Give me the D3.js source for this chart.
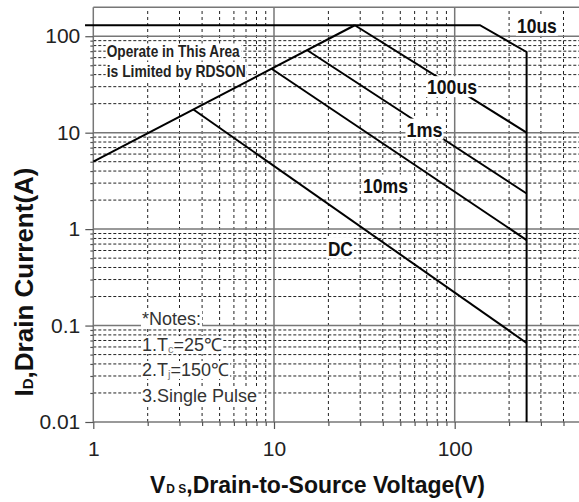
<!DOCTYPE html>
<html>
<head>
<meta charset="utf-8">
<script src="https://cdn.jsdelivr.net/npm/d3@7"></script>
<style>
  html, body { margin: 0; padding: 0; background: #fff; }
  svg { display: block; }
</style>
</head>
<body>
<svg id="chart" width="579" height="502"></svg>
<script>
// ---------- data ----------
const xDomain = [1, 500];
const yDomain = [0.01, 200];
const xMajorTicks = [1, 10, 100];
const xMinorTicks = [2, 3, 4, 5, 6, 7, 8, 9, 20, 30, 40, 50, 60, 70, 80, 90, 200, 300, 400];
const yMajorTicks = [0.01, 0.1, 1, 10, 100];
const yMinorTicks = [0.02, 0.03, 0.04, 0.05, 0.06, 0.07, 0.08, 0.09,
                     0.2, 0.3, 0.4, 0.5, 0.6, 0.7, 0.8, 0.9,
                     2, 3, 4, 5, 6, 7, 8, 9,
                     20, 30, 40, 50, 60, 70, 80, 90];
const xTickLabels = ["1", "10", "100"];
const yTickLabels = ["0.01", "0.1", "1", "10", "100"];

// SOA boundary curves: [V, I]
const rdsonLine = [[1, 5.0], [28, 130]];
const limit10us = [[0.9, 130], [138, 130], [250, 68.7], [250, 0.01]];
const line100us = [[28, 130], [250, 10]];
const line1ms   = [[15.2, 72], [250, 2.34]];
const line10ms  = [[9.7, 46], [250, 0.77]];
const lineDC    = [[3.58, 17.4], [250, 0.066]];

// curve labels: text, V, I (center)
const curveLabels = [
  { text: "10us",  v: 285,  i: 130 },
  { text: "100us", v: 96.6, i: 30 },
  { text: "1ms",   v: 68,   i: 10.9 },
  { text: "10ms",  v: 41.4, i: 2.86 },
  { text: "DC",    v: 23.3, i: 0.635 }
];
const labelWidths = { "10us": 40, "100us": 50, "1ms": 36, "10ms": 45, "DC": 25 };

const areaNote = [
  { text: "Operate in This Area", v: 1.186, i: 68.7, w: 133 },
  { text: "is Limited by RDSON",  v: 1.186, i: 42.7, w: 139 }
];

// ---------- layout ----------
const svg = d3.select("#chart");
const x = d3.scaleLog().domain(xDomain).range([93.3, 581]);
const y = d3.scaleLog().domain(yDomain).range([422, 7.2]);
const FONT = "'Liberation Sans', Arial, Helvetica, sans-serif";

svg.append("rect").attr("width", 579).attr("height", 502).attr("fill", "#fff");

const grid = svg.append("g");
// minor gridlines (dashed)
grid.selectAll(".vminor").data(xMinorTicks).join("line")
  .attr("x1", d => x(d)).attr("x2", d => x(d))
  .attr("y1", y(yDomain[0])).attr("y2", y(yDomain[1]))
  .attr("stroke", "#222").attr("stroke-width", 1).attr("stroke-dasharray", "3,3");
grid.selectAll(".hminor").data(yMinorTicks).join("line")
  .attr("x1", x(xDomain[0])).attr("x2", x(xDomain[1]))
  .attr("y1", d => y(d)).attr("y2", d => y(d))
  .attr("stroke", "#222").attr("stroke-width", 1).attr("stroke-dasharray", "3,2");
// major gridlines (solid grey)
grid.selectAll(".vmajor").data(xMajorTicks).join("line")
  .attr("x1", d => x(d)).attr("x2", d => x(d))
  .attr("y1", y(yDomain[0])).attr("y2", y(yDomain[1]))
  .attr("stroke", "#777").attr("stroke-width", 1.5);
grid.selectAll(".hmajor").data(yMajorTicks.concat([yDomain[1]])).join("line")
  .attr("x1", x(xDomain[0])).attr("x2", x(xDomain[1]))
  .attr("y1", d => y(d)).attr("y2", d => y(d))
  .attr("stroke", "#777").attr("stroke-width", 1.5);

// axes ticks
function styleAxis(g) {
  g.select(".domain").remove();
  g.selectAll(".tick line").attr("stroke", "#555").attr("stroke-width", 1.2);
  g.selectAll("text").attr("font-family", FONT).attr("font-size", 21).attr("fill", "#222");
}
svg.append("g").attr("transform", `translate(${x(xDomain[0])},0)`)
  .call(d3.axisLeft(y).tickValues(yMinorTicks).tickSize(3).tickFormat(""))
  .call(styleAxis);
svg.append("g").attr("transform", `translate(${x(xDomain[0])},0)`)
  .call(d3.axisLeft(y).tickValues(yMajorTicks).tickSize(8).tickPadding(5)
        .tickFormat((d, i) => yTickLabels[i]))
  .call(styleAxis);
svg.append("g").attr("transform", `translate(0,${y(yDomain[0])})`)
  .call(d3.axisBottom(x).tickValues(xMinorTicks).tickSize(4).tickFormat(""))
  .call(styleAxis);
svg.append("g").attr("transform", `translate(0,${y(yDomain[0])})`)
  .call(d3.axisBottom(x).tickValues(xMajorTicks).tickSize(7).tickPadding(12)
        .tickFormat((d, i) => xTickLabels[i]))
  .call(styleAxis);

// curves
const line = d3.line().x(d => x(d[0])).y(d => y(d[1]));
const curves = [rdsonLine, limit10us, line100us, line1ms, line10ms, lineDC];
svg.append("g").selectAll("path").data(curves).join("path")
  .attr("d", line).attr("fill", "none").attr("stroke", "#000")
  .attr("stroke-width", 2).attr("stroke-linejoin", "miter");

// helper: white background behind text
function backed(textSel, pad) {
  textSel.each(function () {
    const b = this.getBBox();
    d3.select(this.parentNode).insert("rect", () => this)
      .attr("x", b.x - pad).attr("y", b.y + 1)
      .attr("width", b.width + 2 * pad).attr("height", b.height - 2)
      .attr("fill", "#fff");
  });
}

// curve labels
const lab = svg.append("g");
curveLabels.forEach(d => {
  const g = lab.append("g");
  const t = g.append("text")
    .attr("x", x(d.v)).attr("y", y(d.i))
    .attr("text-anchor", "middle").attr("dominant-baseline", "central")
    .attr("font-family", FONT).attr("font-weight", "bold").attr("font-size", 21)
    .attr("fill", "#111")
    .attr("textLength", labelWidths[d.text]).attr("lengthAdjust", "spacingAndGlyphs")
    .text(d.text);
  backed(t, 1);
});

// RDSON note
areaNote.forEach(d => {
  const g = lab.append("g");
  const t = g.append("text")
    .attr("x", x(d.v)).attr("y", y(d.i))
    .attr("dominant-baseline", "central")
    .attr("font-family", FONT).attr("font-weight", "bold").attr("font-size", 17)
    .attr("fill", "#222")
    .attr("textLength", d.w).attr("lengthAdjust", "spacingAndGlyphs")
    .text(d.text);
  backed(t, 1);
});

// Notes
const notesV = 1.86;
const notes = [
  { i: 0.117, parts: [["*Notes:", null]] },
  { i: 0.0628, parts: [["1.T", null], ["c", "sub"], ["=25℃", null]] },
  { i: 0.0346, parts: [["2.T", null], ["j", "sub"], ["=150℃", null]] },
  { i: 0.0186, parts: [["3.Single Pulse", null]] }
];
notes.forEach(n => {
  const g = lab.append("g");
  const t = g.append("text")
    .attr("x", x(notesV)).attr("y", y(n.i))
    .attr("dominant-baseline", "central")
    .attr("font-family", FONT).attr("font-size", 18).attr("fill", "#333");
  n.parts.forEach(p => {
    const ts = t.append("tspan").text(p[0]);
    if (p[1] === "sub") ts.attr("font-size", 11).attr("dy", 4).attr("fill", "#777");
    else if (t.selectAll("tspan").size() > 1) ts.attr("dy", -4);
  });
  backed(t, 1);
});

// axis titles
const xt = svg.append("text").attr("x", 150).attr("y", 493)
  .attr("font-family", FONT).attr("font-weight", "bold").attr("font-size", 23).attr("fill", "#111");
xt.append("tspan").text("V");
xt.append("tspan").text("D S").attr("font-size", 12).attr("dx", 1);
xt.append("tspan").text(",Drain-to-Source Voltage(V)");

const yt = svg.append("text")
  .attr("transform", "translate(33,282) rotate(-90)")
  .attr("text-anchor", "middle")
  .attr("font-family", FONT).attr("font-weight", "bold").attr("font-size", 26).attr("fill", "#111");
yt.append("tspan").text("I");
yt.append("tspan").text("D").attr("font-size", 15);
yt.append("tspan").text(",Drain Current(A)");
</script>
</body>
</html>
